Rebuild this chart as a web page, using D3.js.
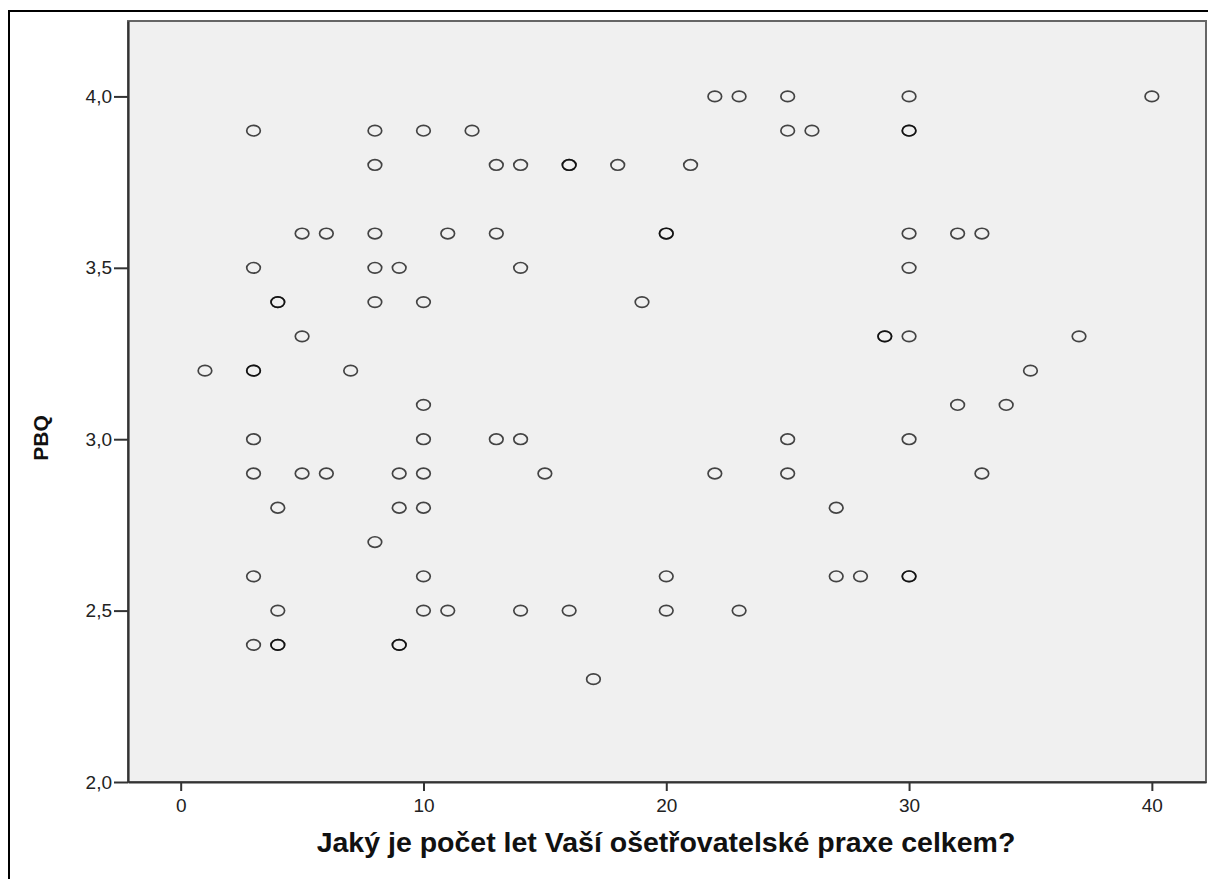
<!DOCTYPE html>
<html>
<head>
<meta charset="utf-8">
<script src="https://cdn.jsdelivr.net/npm/d3@7"></script>
<style>
  body { margin: 0; background: #ffffff; }
</style>
</head>
<body>
<svg id="scatter_chart" width="1208" height="879"></svg>
<script>
// Years of nursing practice (x) and PBQ score (y), one entry per respondent.
// Points that show up darker in the picture are listed twice.
var years = [
  22, 23, 25, 30, 40,
  3, 8, 10, 12, 25, 26, 30, 30,
  8, 13, 14, 16, 16, 18, 21,
  5, 6, 8, 11, 13, 20, 20, 30, 32, 33,
  3, 8, 9, 14, 30,
  4, 4, 8, 10, 19,
  5, 29, 29, 30, 37,
  1, 3, 3, 7, 35,
  10, 32, 34,
  3, 10, 13, 14, 25, 30,
  3, 5, 6, 9, 10, 15, 22, 25, 33,
  4, 9, 10, 27,
  8,
  3, 10, 20, 27, 28, 30, 30,
  4, 10, 11, 14, 16, 20, 23,
  3, 4, 4, 9, 9,
  17
];
var pbq = [
  4.0, 4.0, 4.0, 4.0, 4.0,
  3.9, 3.9, 3.9, 3.9, 3.9, 3.9, 3.9, 3.9,
  3.8, 3.8, 3.8, 3.8, 3.8, 3.8, 3.8,
  3.6, 3.6, 3.6, 3.6, 3.6, 3.6, 3.6, 3.6, 3.6, 3.6,
  3.5, 3.5, 3.5, 3.5, 3.5,
  3.4, 3.4, 3.4, 3.4, 3.4,
  3.3, 3.3, 3.3, 3.3, 3.3,
  3.2, 3.2, 3.2, 3.2, 3.2,
  3.1, 3.1, 3.1,
  3.0, 3.0, 3.0, 3.0, 3.0, 3.0,
  2.9, 2.9, 2.9, 2.9, 2.9, 2.9, 2.9, 2.9, 2.9,
  2.8, 2.8, 2.8, 2.8,
  2.7,
  2.6, 2.6, 2.6, 2.6, 2.6, 2.6, 2.6,
  2.5, 2.5, 2.5, 2.5, 2.5, 2.5, 2.5,
  2.4, 2.4, 2.4, 2.4, 2.4,
  2.3
];
var xTicks = [0, 10, 20, 30, 40];
var yTicks = [2.0, 2.5, 3.0, 3.5, 4.0];
var xTitle = 'Jaký je počet let Vaší ošetřovatelské praxe celkem?';
var yTitle = 'PBQ';

function commaFormat(d) {
  /* SPSS style decimal comma, one decimal place. */
  return d3.format('.1f')(d).replace('.', ',');
}

function renderScatter(element) {
  'use strict';
  var svg = d3.select('#' + element),
    margin = {top: 21, right: 2, bottom: 97, left: 128},
    width = svg.attr('width') - margin.left - margin.right,
    height = svg.attr('height') - margin.top - margin.bottom;

  var font = '"Liberation Sans", Arial, sans-serif';

  // Outer frame round the whole chart (runs off the right and bottom edge).
  svg.append('rect')
    .attr('x', 9).attr('y', 11)
    .attr('width', 1220).attr('height', 900)
    .attr('fill', 'none')
    .attr('stroke', '#000')
    .attr('stroke-width', 2);

  var x = d3.scaleLinear().domain([-2.17, 42.23]).range([0, width]);
  var y = d3.scaleLinear().domain([2.0, 4.22]).range([height, 0]);

  var g = svg.append('g')
    .attr('transform', 'translate(' + margin.left + ', ' + margin.top + ')');

  // Plot background and its frame
  g.append('rect')
    .attr('width', width).attr('height', height)
    .attr('fill', '#f0f0f0')
    .attr('stroke', '#666')
    .attr('stroke-width', 2);

  // The points themselves: open ellipses
  var pts = years.map(function(v, i) { return {x: v, y: pbq[i]}; });
  g.selectAll('.pt')
    .data(pts)
    .enter()
    .append('ellipse')
      .attr('class', 'pt')
      .attr('cx', function(d) { return x(d.x); })
      .attr('cy', function(d) { return y(d.y); })
      .attr('rx', 6.8)
      .attr('ry', 5.3)
      .attr('fill', 'none')
      .attr('stroke', '#000')
      .attr('stroke-opacity', 0.72)
      .attr('stroke-width', 1.7);

  // X Axis
  var xAxis = g.append('g')
    .attr('transform', 'translate(0, ' + height + ')')
    .call(d3.axisBottom(x).tickValues(xTicks).tickSize(9).tickPadding(8).tickSizeOuter(0));

  // Y Axis
  var yAxis = g.append('g')
    .call(d3.axisLeft(y).tickValues(yTicks).tickFormat(commaFormat).tickSize(14).tickPadding(2).tickSizeOuter(0));

  [xAxis, yAxis].forEach(function(ax) {
    ax.select('.domain').attr('stroke', '#333').attr('stroke-width', 2.2);
    ax.selectAll('.tick line').attr('stroke', '#333').attr('stroke-width', 2);
    ax.selectAll('.tick text')
      .attr('fill', '#222')
      .attr('font-family', font)
      .attr('font-size', 19);
  });

  // Axis titles
  svg.append('text')
    .attr('x', 666)
    .attr('y', 852)
    .attr('text-anchor', 'middle')
    .attr('font-family', font)
    .attr('font-weight', 'bold')
    .attr('font-size', 28.5)
    .attr('fill', '#111')
    .text(xTitle);

  svg.append('text')
    .attr('transform', 'translate(48, 438) rotate(270)')
    .attr('text-anchor', 'middle')
    .attr('font-family', font)
    .attr('font-weight', 'bold')
    .attr('font-size', 21)
    .attr('fill', '#111')
    .text(yTitle);
}

renderScatter('scatter_chart');
</script>
</body>
</html>
